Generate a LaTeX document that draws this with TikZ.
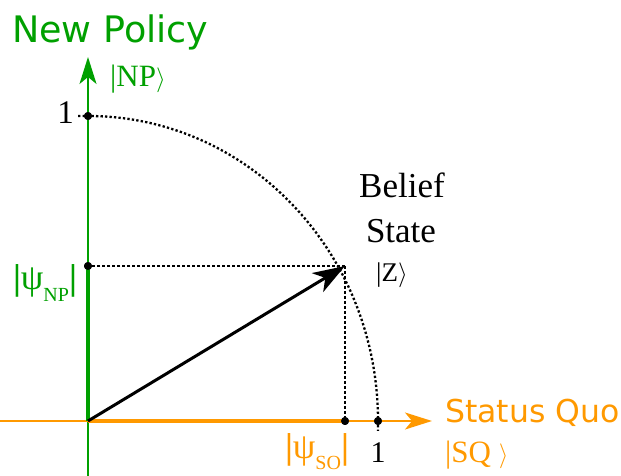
\documentclass[tikz,border=0pt]{standalone}
\usepackage{fontspec}
\setmainfont{Liberation Serif}
\setsansfont{DejaVu Sans}
\usetikzlibrary{arrows.meta}
\definecolor{npgreen}{RGB}{0,160,0}
\definecolor{sqorange}{RGB}{255,153,0}

\begin{document}
\begin{tikzpicture}[
    x=1pt, y=1pt,
    thinaxis/.style={line width=1.8pt},
    thickaxis/.style={line width=4.5pt},
    guide/.style={line width=1.4pt, dash pattern=on 3pt off 2pt},
    unitarc/.style={line width=2.3pt, dash pattern=on 2.3pt off 2.2pt},
    dot/.style={circle, fill=black, inner sep=0pt, minimum size=8pt},
    axtip/.style={-{Stealth[length=27pt, width=17pt, inset=7pt]}},
    lbl/.style={inner sep=0pt, font=\fontsize{33}{33}\selectfont},
    head/.style={inner sep=0pt, font=\sffamily\fontsize{36.5}{36.5}\selectfont},
  ]
  \useasboundingbox (0,0) rectangle (621,476);

  % axes end points
  \coordinate (O) at (88,55);
  \coordinate (NPtop) at (88,419);
  \coordinate (NPbot) at (88,0);
  \coordinate (SQleft) at (0,55);
  \coordinate (SQright) at (432,55);
  \coordinate (Z) at (345,210);

  \node[dot] (NPone) at (88,360) {};
  \node[dot] (NPpsi) at (88,210) {};
  \node[dot] (SQpsi) at (345,55) {};
  \node[dot] (SQone) at (378,55) {};

  % unit circle and projections
  \draw[unitarc] ([xshift=-10pt]NPone.center) -- (NPone.center)
    arc[start angle=90, end angle=0, x radius=290pt, y radius=305pt] -- ++(0,-10);
  \draw[guide] (Z) -- (NPpsi.center);
  \draw[guide] (Z) -- (SQpsi.center);

  % axes
  \draw[npgreen, thinaxis, axtip] (NPbot) -- (NPtop);
  \draw[sqorange, thinaxis, axtip] (SQleft) -- (SQright);
  \draw[npgreen, thickaxis] (O) -- (NPpsi.center);
  \draw[sqorange, thickaxis] (O) -- (SQpsi.center);

  % state vector
  \draw[line width=3pt, -{Stealth[length=32pt, width=22pt, inset=9pt]}] (O) -- (Z);

  \node[dot] at (NPone) {};
  \node[dot] at (NPpsi) {};
  \node[dot] at (SQpsi) {};
  \node[dot] at (SQone) {};

  % labels
  \node[head, text=npgreen, anchor=base west] (newpol) at (12,433) {New Policy};
  \node[lbl, font=\fontsize{31}{31}\selectfont, text=npgreen, anchor=base west] (npket) at (110,389) {|NP$\rangle$};
  \node[lbl, anchor=east] (npunit) at (74,363) {1};
  \node[inner sep=0pt, text=npgreen, font=\fontsize{36}{36}\selectfont] (nppsi) at (45,193)
    {\textbf{|}ψ\raisebox{-12pt}{\fontsize{20}{20}\selectfont NP}\textbf{|}};

  \node[inner sep=0pt, font=\fontsize{35}{35}\selectfont, anchor=base] (belief) at (402,278) {Belief};
  \node[inner sep=0pt, font=\fontsize{35}{35}\selectfont, anchor=base] (state) at (401,233) {State};
  \node[inner sep=0pt, font=\fontsize{27}{27}\selectfont, anchor=base] (zket) at (392,194) {|Z$\rangle$};

  \node[head, font=\sffamily\fontsize{31.5}{31.5}\selectfont, text=sqorange, anchor=base west] (statquo) at (445,53) {Status Quo};
  \node[lbl, font=\fontsize{31}{31}\selectfont, text=sqorange, anchor=base west] (sqket) at (445,13) {|SQ $\rangle$};
  \node[lbl, font=\fontsize{30}{30}\selectfont, anchor=base] (squnit) at (378,13) {1};
  \node[inner sep=0pt, text=sqorange, font=\fontsize{36}{36}\selectfont] (sqpsi) at (317,24)
    {\textbf{|}ψ\raisebox{-11pt}{\fontsize{20}{20}\selectfont SO}\textbf{|}};
\end{tikzpicture}
\end{document}
